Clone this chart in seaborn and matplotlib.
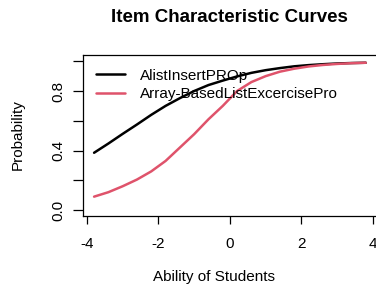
import numpy as np
import pandas as pd
import matplotlib
matplotlib.use("Agg")
import matplotlib.pyplot as plt
import seaborn as sns

# Valores (habilidade vs probabilidade)
theta = [-3.8, -3.4, -3.0, -2.6, -2.2, -1.8, -1.4, -1.0, -0.6, -0.2,
         0.2, 0.6, 1.0, 1.4, 1.8, 2.2, 2.6, 3.0, 3.4, 3.8]
p_alist = [0.385, 0.447, 0.512, 0.575, 0.640, 0.700, 0.752, 0.800, 0.840, 0.870,
           0.898, 0.922, 0.940, 0.954, 0.966, 0.974, 0.980, 0.985, 0.988, 0.990]
p_array = [0.090, 0.120, 0.160, 0.205, 0.260, 0.330, 0.420, 0.510, 0.610, 0.700,
           0.800, 0.860, 0.900, 0.930, 0.950, 0.965, 0.975, 0.982, 0.987, 0.990]
items = ["AlistInsertPROp", "Array-BasedListExcercisePro"]
colors = ["black", "#DF536B"]

x_ticks = [-4, -2, 0, 2, 4]
y_ticks = [0.0, 0.2, 0.4, 0.6, 0.8, 1.0]
y_ticklabels = ["0.0", "", "0.4", "", "0.8", ""]

df = pd.DataFrame({
    "theta": theta * 2,
    "prob": p_alist + p_array,
    "item": [items[0]] * len(theta) + [items[1]] * len(theta),
})

sns.set_style("white")
plt.rcParams["font.family"] = ["Liberation Sans", "DejaVu Sans"]
plt.rcParams["text.color"] = "black"
plt.rcParams["xtick.color"] = "black"
plt.rcParams["ytick.color"] = "black"

W, H = 376, 286
fig = plt.figure(figsize=(W / 100, H / 100), dpi=100)
ax = fig.add_axes([83 / W, (H - 216) / H, 296 / W, 161 / H])

sns.lineplot(data=df, x="theta", y="prob", hue="item", palette=colors,
             linewidth=1.8, ax=ax, legend=True)

ax.set_xlim(-4.11, 4.17)
ax.set_ylim(-0.04, 1.042)
ax.set_xticks(x_ticks)
ax.set_xticklabels([str(t) for t in x_ticks])
ax.set_yticks(y_ticks)
ax.set_yticklabels(y_ticklabels, rotation=90, va="center")
ax.tick_params(axis="x", length=6, width=0.9, pad=9, labelsize=11, direction="out", bottom=True)
ax.tick_params(axis="y", length=7, width=0.9, pad=6, labelsize=11, direction="out", left=True)
for s in ax.spines.values():
    s.set_color("black")
    s.set_linewidth(0.9)
ax.set_xlabel("")
ax.set_ylabel("")

leg = ax.legend(loc="upper left", bbox_to_anchor=(0.045, 0.915), frameon=False,
                fontsize=11, handlelength=1.85, handletextpad=1.0,
                labelspacing=0.3, borderpad=0, borderaxespad=0)
for line in leg.get_lines():
    line.set_linewidth(1.8)

fig.text(229 / W, 1 - 18 / H, "Item Characteristic Curves", ha="center", va="center",
         fontsize=13.5, fontweight="bold")
fig.text(214 / W, 1 - 277 / H, "Ability of Students", ha="center", va="center", fontsize=11)
fig.text(18 / W, 1 - 135 / H, "Probability", ha="center", va="center", rotation=90, fontsize=11)

fig.savefig("out.png", dpi=100)
